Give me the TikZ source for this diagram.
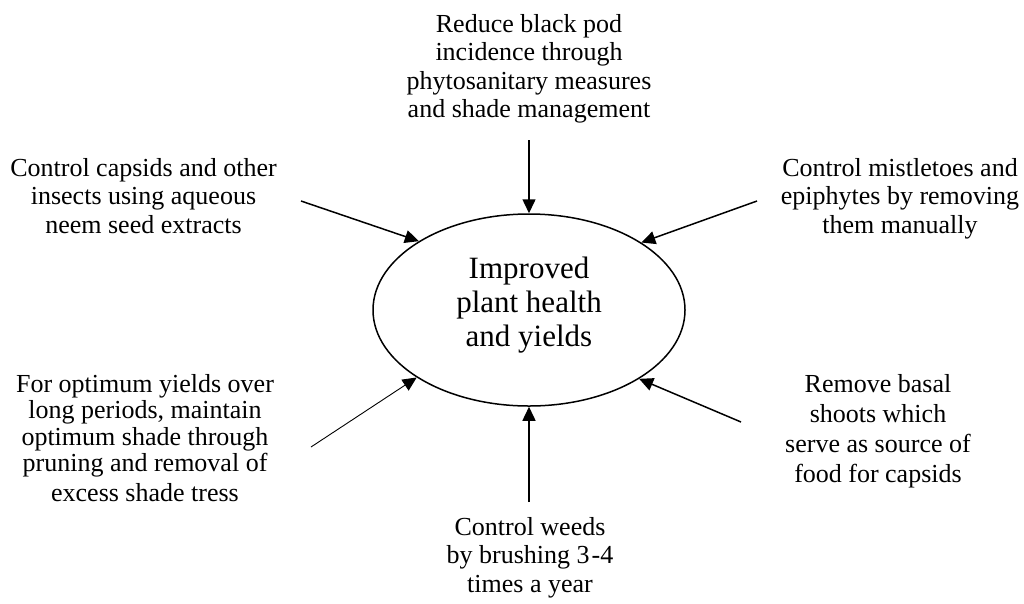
\documentclass[tikz,border=0pt]{standalone}
\usepackage{fontspec}
\setmainfont{Liberation Serif}
\usetikzlibrary{arrows.meta,shapes.geometric}
\begin{document}
\begin{tikzpicture}[x=1pt,y=-1pt,
  note/.style={align=center, inner sep=0pt, anchor=north, font=\fontsize{26}{28.5}\selectfont},
  hubtext/.style={align=center, inner sep=0pt, anchor=north, font=\fontsize{31}{34}\selectfont},
  hubshape/.style={ellipse, draw, line width=1.5pt, minimum width=312pt, minimum height=192pt, inner sep=0pt},
  feed/.style={-{Triangle[length=14pt,width=13pt]}, line width=1.5pt},
  thinfeed/.style={feed, line width=0.9pt}]
\useasboundingbox (0,0) rectangle (1024,603);

% central outcome
\node[hubshape] (hub) at (529,310) {};
\node[hubtext] (hubtext) at (529,257) {Improved\\plant health\\and yields};

% practices around the outcome
\node[note] (pod) at (529,14) {Reduce black pod\\incidence through\\phytosanitary measures\\and shade management};
\node[note] (capsids) at (143.5,158) {Control capsids and other\\insects using aqueous\\neem seed extracts};
\node[note] (mistle) at (900,158) {Control mistletoes and\\epiphytes by removing\\them manually};
\node[note, font=\fontsize{26}{26.5}\selectfont] (shade) at (145,374) {For optimum yields over\\long periods, maintain\\optimum shade through\\pruning and removal of\\[3pt]excess shade tress};
\node[note, font=\fontsize{26}{30}\selectfont] (basal) at (878,374) {Remove basal\\shoots which\\serve as source of\\food for capsids};
\node[note] (weeds) at (530,517) {Control weeds\\by brushing 3\kern2pt-4\\times a year};

% arrow start points
\coordinate (sPod) at (529,140);
\coordinate (sCapsids) at (301,201);
\coordinate (sMistle) at (757,201);
\coordinate (sShade) at (311,447);
\coordinate (sBasal) at (741,422);
\coordinate (sWeeds) at (529,502);

% arrows into the outcome
\draw[feed] (sPod) -- (hub.90);
\draw[feed] (sCapsids) -- (hub.148.5);
\draw[feed] (sMistle) -- (hub.31.5);
\draw[thinfeed] (sShade) -- (hub.211.1);
\draw[feed] (sBasal) -- (hub.328.9);
\draw[feed] (sWeeds) -- (hub.270);
\end{tikzpicture}
\end{document}
